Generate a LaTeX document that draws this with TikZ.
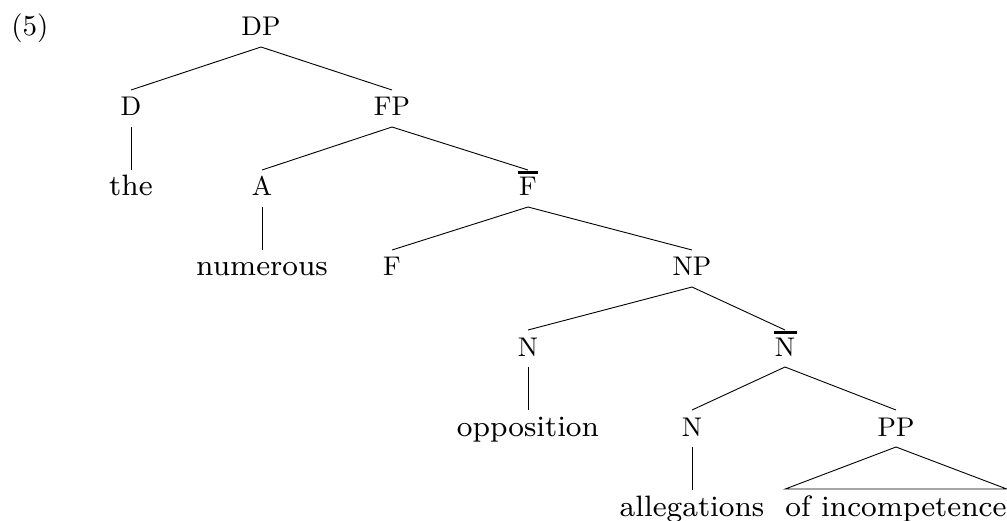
\documentclass[tikz,border=0pt]{standalone}
\usepackage{fontspec}
\usetikzlibrary{calc}

% fixed design sizes of Latin Modern, scaled up
\newfontfamily\catfont{lmroman10-regular.otf}
\newfontfamily\wordfont{lmroman8-regular.otf}
\newcommand\catsize{\catfont\fontsize{27}{31}\selectfont}
\newcommand\wordsize{\wordfont\fontsize{29.5}{34}\selectfont}
% branch from the foot of a parent label to the top of a child label
\newcommand\treeedge[2]{\draw[branch] ($(#1.base)+(0,-11)$) -- ($(#2.base)+(0,26)$);}
% bar over an intermediate projection
\newcommand\barover[2]{\draw[barline] ($(#1.base)+(-#2/2,23.5)$) -- ++(#2,0);}

\tikzset{
  cat/.style={anchor=base, inner sep=0pt, font=\catsize},
  word/.style={anchor=base, inner sep=0pt, font=\wordsize},
  branch/.style={line width=0.9pt},
  barline/.style={line width=2.5pt}
}

\begin{document}
\begin{tikzpicture}[x=1pt, y=1pt]
\useasboundingbox (0,0) rectangle (1007,-521);

% example number
\node[cat, font=\catfont\fontsize{29}{33}\selectfont] (num) at (30,-36) {(5)};

% categories
\node[cat] (dp)   at (261,-36)  {DP};
\node[cat] (d)    at (131,-116) {D};
\node[cat] (fp)   at (392,-116) {FP};
\node[cat] (a)    at (262,-196) {A};
\node[cat] (fbar) at (528,-196) {F};
\node[cat] (f)    at (392,-276) {F};
\node[cat] (np)   at (692,-276) {NP};
\node[cat] (n1)   at (528,-356) {N};
\node[cat] (nbar) at (785,-356) {N};
\node[cat] (n2)   at (692,-436) {N};
\node[cat] (pp)   at (896,-436) {PP};

% terminal words
\node[word] (the)  at (131,-196) {the};
\node[word] (numerous) at (262,-276) {numerous};
\node[word] (opposition) at (528,-436) {opposition};
\node[word] (allegations) at (692,-516) {allegations};
\node[word] (inc)  at (896,-516) {of incompetence};

% bars
\barover{fbar}{20}
\barover{nbar}{23}

% branches
\treeedge{dp}{d}
\treeedge{dp}{fp}
\treeedge{d}{the}
\treeedge{fp}{a}
\treeedge{fp}{fbar}
\treeedge{a}{numerous}
\treeedge{fbar}{f}
\treeedge{fbar}{np}
\treeedge{np}{n1}
\treeedge{np}{nbar}
\treeedge{n1}{opposition}
\treeedge{nbar}{n2}
\treeedge{nbar}{pp}
\treeedge{n2}{allegations}

% roof over the unanalysed PP
\draw[branch] ($(pp.base)+(0,-11)$) -- ($(inc.base west)+(0,27)$)
  -- ($(inc.base east)+(0,27)$) -- cycle;
\end{tikzpicture}
\end{document}
